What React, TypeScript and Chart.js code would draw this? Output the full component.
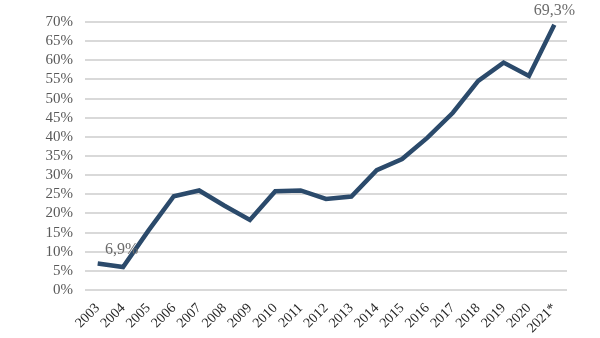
import React, { useEffect, useRef } from "react";
import { Chart, registerables } from "chart.js";

Chart.register(...registerables);

const years = ["2003","2004","2005","2006","2007","2008","2009","2010","2011","2012","2013","2014","2015","2016","2017","2018","2019","2020","2021*"];
const values = [6.9, 6.0, 15.5, 24.5, 26.0, 22.0, 18.3, 25.8, 26.0, 23.8, 24.4, 31.3, 34.2, 39.8, 46.3, 54.6, 59.4, 55.9, 69.3];
const labeledIdx = [0, 18];
const yTicks = [0, 5, 10, 15, 20, 25, 30, 35, 40, 45, 50, 55, 60, 65, 70];

const labelPlugin = {
  id: "valueLabels",
  afterDatasetsDraw(chart: any) {
    const ctx = chart.ctx;
    const meta = chart.getDatasetMeta(0);
    ctx.save();
    ctx.font = "16px 'Liberation Serif', 'Times New Roman', serif";
    ctx.fillStyle = "#6b6b6b";
    ctx.textAlign = "center";
    ctx.textBaseline = "bottom";
    labeledIdx.forEach((i) => {
      const pt = meta.data[i];
      const txt = values[i].toFixed(1).replace(".", ",") + "%";
      ctx.fillText(txt, pt.x + (i === 0 ? 24 : 0), pt.y - 6);
    });
    ctx.restore();
  },
};

export default function App() {
  const ref = useRef<HTMLCanvasElement>(null);
  useEffect(() => {
    const chart = new Chart(ref.current!, {
      type: "line",
      data: {
        labels: years,
        datasets: [
          {
            data: values,
            borderColor: "#2b4a6b",
            borderWidth: 4.5,
            pointRadius: 0,
            tension: 0,
            fill: false,
          },
        ],
      },
      options: {
        animation: false,
        responsive: false,
        maintainAspectRatio: false,
        layout: { padding: { top: 22, right: 33, bottom: 0, left: 0 } },
        plugins: { legend: { display: false }, tooltip: { enabled: false } },
        scales: {
          x: {
            offset: true,
            grid: { display: false, drawTicks: false },
            border: { display: false },
            ticks: {
              minRotation: 45,
              maxRotation: 45,
              autoSkip: false,
              padding: 10,
              color: "#262626",
              font: { family: "'Liberation Serif', 'Times New Roman', serif", size: 14 },
            },
            afterFit(scale: any) {
              scale.height = 48;
            },
          },
          y: {
            min: 0,
            max: 70,
            afterBuildTicks(scale: any) {
              scale.ticks = yTicks.map((v) => ({ value: v }));
            },
            grid: { color: "#d9d9d9", lineWidth: 2, drawTicks: false },
            border: { display: false },
            ticks: {
              autoSkip: false,
              padding: 12,
              color: "#595959",
              font: { family: "'Liberation Serif', 'Times New Roman', serif", size: 15 },
              callback: (v: any) => v + "%",
            },
            afterFit(scale: any) {
              scale.width = 85;
            },
          },
        },
      },
      plugins: [labelPlugin],
    });
    return () => chart.destroy();
  }, []);
  return (
    <div style={{ position: "fixed", left: 0, top: 0, width: 600, height: 338, background: "#fff" }}>
      <canvas ref={ref} width={600} height={338} style={{ width: 600, height: 338 }} />
    </div>
  );
}
